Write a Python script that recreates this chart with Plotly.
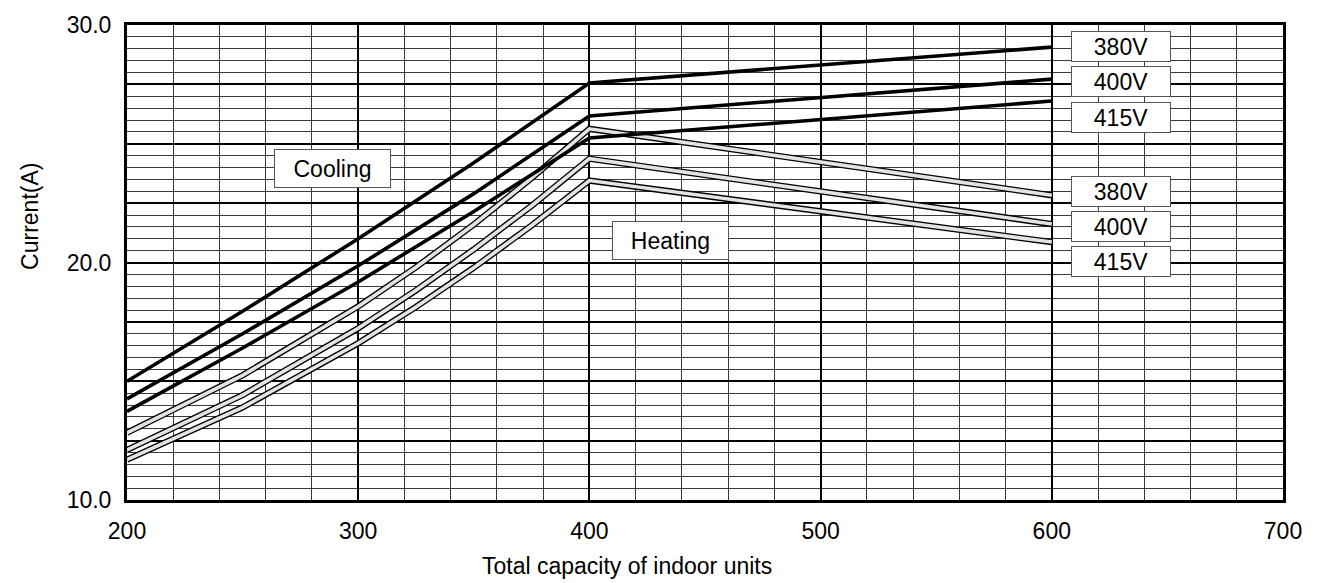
import plotly.graph_objects as go

# ---- data ----
capacity = [200, 250, 300, 350, 400, 600]
cool_380 = [15.0, 17.95, 21.0, 24.2, 27.56, 29.07]
cool_400 = [14.26, 17.0, 19.86, 22.9, 26.17, 27.72]
cool_415 = [13.73, 16.4, 19.18, 22.15, 25.24, 26.80]

heat_capacity = [200, 250, 300, 325, 350, 375, 400, 600]
heat_380 = [12.83, 15.25, 18.15, 19.8, 21.6, 23.55, 25.63, 22.83]
heat_400 = [12.11, 14.42, 17.23, 18.83, 20.55, 22.39, 24.37, 21.62]
heat_415 = [11.70, 13.90, 16.60, 18.13, 19.78, 21.56, 23.45, 20.86]

voltages = ["380V", "400V", "415V"]
cool_label_y = [29.10, 27.61, 26.12]
heat_label_y = [23.0, 21.53, 20.04]
label_x = 630

x_ticks = [200, 300, 400, 500, 600, 700]
y_tickvals = [10, 12.5, 15, 17.5, 20, 22.5, 25, 27.5, 30]
y_ticktext = ["10.0", "", "", "", "20.0", "", "", "", "30.0"]

FONT = "Liberation Sans, Arial, sans-serif"

fig = go.Figure()

for ys in (heat_380, heat_400, heat_415):
    fig.add_trace(go.Scatter(x=heat_capacity, y=ys, mode="lines",
                             line=dict(color="black", width=6.3),
                             hoverinfo="skip", showlegend=False))
    fig.add_trace(go.Scatter(x=heat_capacity, y=ys, mode="lines",
                             line=dict(color="#e4e4e4", width=3.6),
                             hoverinfo="skip", showlegend=False))

for ys in (cool_380, cool_400, cool_415):
    fig.add_trace(go.Scatter(x=capacity, y=ys, mode="lines",
                             line=dict(color="black", width=3.6),
                             hoverinfo="skip", showlegend=False))

def box(x, y, text, w, h):
    fig.add_annotation(x=x, y=y, text=text, showarrow=False,
                       font=dict(family=FONT, size=23, color="black"),
                       bgcolor="white", bordercolor="#555", borderwidth=1,
                       borderpad=1, width=w, height=h,
                       xanchor="center", yanchor="middle")

for v, yy in zip(voltages, cool_label_y):
    box(label_x, yy, v, 96, 27)
for v, yy in zip(voltages, heat_label_y):
    box(label_x, yy, v, 96, 27)
box(289, 23.97, "Cooling", 113, 35)
box(435, 20.93, "Heating", 113, 35)

# axis titles
fig.add_annotation(text="Total capacity of indoor units", xref="paper", yref="paper",
                   x=0.4325, y=-0.1387, showarrow=False,
                   xanchor="center", yanchor="middle",
                   font=dict(family=FONT, size=23, color="black"))
fig.add_annotation(text="Current(A)", xref="paper", yref="paper",
                   x=-0.0839, y=0.596, showarrow=False, textangle=-90,
                   xanchor="center", yanchor="middle",
                   font=dict(family=FONT, size=23, color="black"))

fig.update_layout(
    width=1325, height=583,
    margin=dict(l=127, r=42, t=17, b=83),
    paper_bgcolor="white", plot_bgcolor="white",
    font=dict(family=FONT, size=23, color="black"),
    showlegend=False,
)
fig.update_xaxes(
    range=[200, 700], tickvals=x_ticks, ticktext=[str(t) for t in x_ticks],
    showgrid=True, gridcolor="black", gridwidth=2,
    minor=dict(dtick=20, tick0=200, showgrid=True, gridcolor="#3a3a3a", gridwidth=1),
    showline=True, mirror=True, linecolor="black", linewidth=3,
    zeroline=False, ticks="outside", ticklen=8, tickcolor="rgba(0,0,0,0)",
    tickfont=dict(size=23),
)
fig.update_yaxes(
    range=[10, 30], tickvals=y_tickvals, ticktext=y_ticktext,
    showgrid=True, gridcolor="black", gridwidth=2,
    minor=dict(dtick=0.5, tick0=10, showgrid=True, gridcolor="#3a3a3a", gridwidth=1),
    showline=True, mirror=True, linecolor="black", linewidth=3,
    zeroline=False, ticks="outside", ticklen=8, tickcolor="rgba(0,0,0,0)",
    tickfont=dict(size=23),
)

fig.write_html("out.html")
